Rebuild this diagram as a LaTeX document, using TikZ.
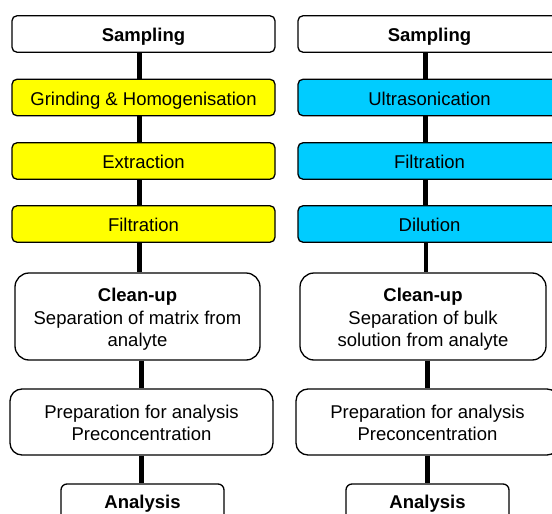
\documentclass[tikz,border=0pt]{standalone}
\usepackage{fontspec}
\setmainfont{Liberation Sans}
\definecolor{boxyellow}{HTML}{FFFF00}
\definecolor{boxcyan}{HTML}{00CCFF}
\begin{document}
\begin{tikzpicture}[x=1pt,y=-1pt,
  box/.style={draw=black, line width=1.3pt, align=center, inner sep=0pt,
    font=\fontsize{18.5}{22.5}\selectfont, text=black},
  small/.style={box, rounded corners=5pt, minimum width=263pt, minimum height=36.5pt,
    text height=17pt, text depth=2pt},
  ybox/.style={small, fill=boxyellow},
  cbox/.style={small, fill=boxcyan},
  cleanbox/.style={box, rounded corners=14pt, minimum height=87pt},
  prepbox/.style={box, rounded corners=12pt, minimum width=263pt, minimum height=66pt},
  anbox/.style={box, rounded corners=6pt, minimum width=163pt, minimum height=40pt},
  conn/.style={line width=4.5pt, black}]
\useasboundingbox (0,0) rectangle (552,514);
\clip (0,0) rectangle (552,514);
% left column
\node[small] (ls) at (143.5,34) {\textbf{Sampling}};
\node[ybox] (lg) at (143.5,97.5) {Grinding \& Homogenisation};
\node[ybox] (le) at (143.5,161) {Extraction};
\node[ybox] (lf) at (143.5,224) {Filtration};
\node[cleanbox, minimum width=245pt] (lc) at (137.5,316.5) {\rule{0pt}{19.5pt}\textbf{Clean-up}\\Separation of matrix from\\analyte};
\node[prepbox] (lp) at (141.5,422) {\rule{0pt}{15.5pt}Preparation for analysis\\Preconcentration};
\node[anbox] (la) at (142.5,504) {\textbf{Analysis}};
% right column
\node[small] (rs) at (429.5,34) {\textbf{Sampling}};
\node[cbox] (ru) at (429.5,97.5) {Ultrasonication};
\node[cbox] (rf) at (429.5,161) {Filtration};
\node[cbox] (rd) at (429.5,224) {Dilution};
\node[cleanbox, minimum width=246pt] (rc) at (423,316.5) {\rule{0pt}{19.5pt}\textbf{Clean-up}\\Separation of bulk\\solution from analyte};
\node[prepbox] (rp) at (427.5,422) {\rule{0pt}{15.5pt}Preparation for analysis\\Preconcentration};
\node[anbox] (ra) at (427.5,504) {\textbf{Analysis}};
% connectors
\foreach \a/\b in {ls/lg, lg/le, le/lf, rs/ru, ru/rf, rf/rd}
  \draw[conn] ([xshift=-4pt]\a.south) -- ([xshift=-4pt]\b.north);
\draw[conn] ([xshift=-4pt]lf.south) -- ([xshift=-4pt]lf.south |- lc.north);
\draw[conn] ([xshift=-3.5pt]rd.south) -- ([xshift=-3.5pt]rd.south |- rc.north);
\draw[conn] (lp.north |- lc.south) -- (lp.north);
\draw[conn] (rp.north |- rc.south) -- (rp.north);
\draw[conn] (lp.south) -- (lp.south |- la.north);
\draw[conn] (rp.south) -- (rp.south |- ra.north);
\end{tikzpicture}
\end{document}
